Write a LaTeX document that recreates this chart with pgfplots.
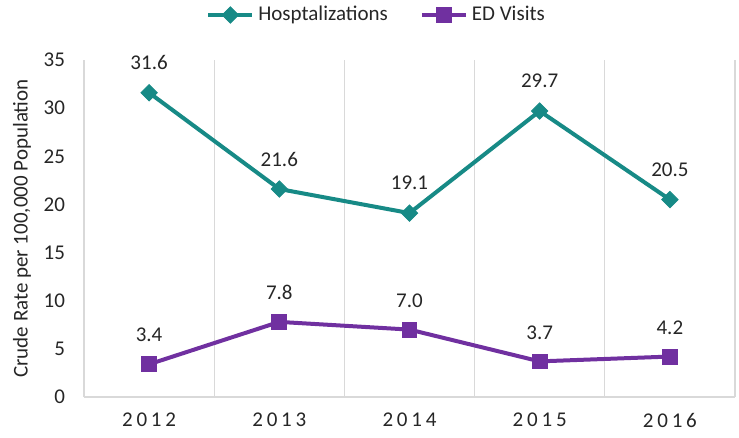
\documentclass[border=0pt]{standalone}
\usepackage{pgfplots}
\pgfplotsset{compat=1.18}
\usepackage{fontspec}
\setmainfont{Carlito}
\newfontfamily\spaced[LetterSpace=18]{Carlito}
\definecolor{tealc}{RGB}{23,138,134}
\definecolor{purpc}{RGB}{112,48,160}
\definecolor{gridc}{RGB}{217,217,217}
\definecolor{txtc}{RGB}{38,38,38}
\newcommand{\fs}{\fontsize{10.5bp}{12.6bp}\selectfont}
\begin{document}
\begin{tikzpicture}
\useasboundingbox (-42bp,-20.5bp) rectangle (327.5bp,198.5bp);
\begin{axis}[
  scale only axis, width=325.5bp, height=168.5bp,
  xmin=-0.5, xmax=4.5, ymin=0, ymax=35,
  xtick={0,1,2,3,4}, xticklabels={2012,2013,2014,2015,2016},
  ytick={0,5,...,35},
  minor xtick={-0.5,0.5,1.5,2.5,3.5,4.5},
  xminorgrids, minor grid style={draw=gridc, line width=0.6bp},
  axis x line*=bottom, axis y line*=left,
  axis line style={draw=gridc, line width=0.6bp},
  major tick length=0pt, minor tick length=0pt,
  /pgf/number format/assume math mode=true,
  xticklabel style={font=\spaced\fs, text=txtc, anchor=center, yshift=-11.5bp},
  yticklabel style={font=\fs, text=txtc, anchor=east, xshift=-6bp},
  ylabel={Crude Rate per 100,000 Population},
  ylabel style={font=\fs, text=txtc, at={(axis description cs:-0.0952,0.5)}, anchor=center},
  legend columns=2,
  legend style={draw=none, fill=none, font=\fs, text=txtc,
    at={(0.451,1.1335)}, anchor=center,
    /tikz/every even column/.append style={column sep=14bp}},
  legend image code/.code={\draw[mark repeat=2,mark phase=2,#1] plot coordinates {(0bp,0bp)(11bp,0bp)(22bp,0bp)};},
  clip=false,
]
\addplot[color=tealc, line width=2bp, mark=square*, mark size=2.9bp,
  mark options={rotate=45, line width=0.4bp, fill=tealc},
  nodes near coords={\pgfmathprintnumber[fixed,fixed zerofill,precision=1]{\pgfplotspointmeta}},
  every node near coord/.append style={font=\fs, text=txtc, anchor=center, yshift=15bp}]
  coordinates {(0,31.6) (1,21.6) (2,19.1) (3,29.7) (4,20.5)};
\addlegendentry{Hosptalizations}
\addplot[color=purpc, line width=2bp, mark=square*, mark size=3.7bp,
  mark options={line width=0.4bp, fill=purpc},
  nodes near coords={\pgfmathprintnumber[fixed,fixed zerofill,precision=1]{\pgfplotspointmeta}},
  every node near coord/.append style={font=\fs, text=txtc, anchor=center, yshift=14.5bp}]
  coordinates {(0,3.4) (1,7.8) (2,7.0) (3,3.7) (4,4.2)};
\addlegendentry{ED Visits}
\end{axis}
\end{tikzpicture}
\end{document}
